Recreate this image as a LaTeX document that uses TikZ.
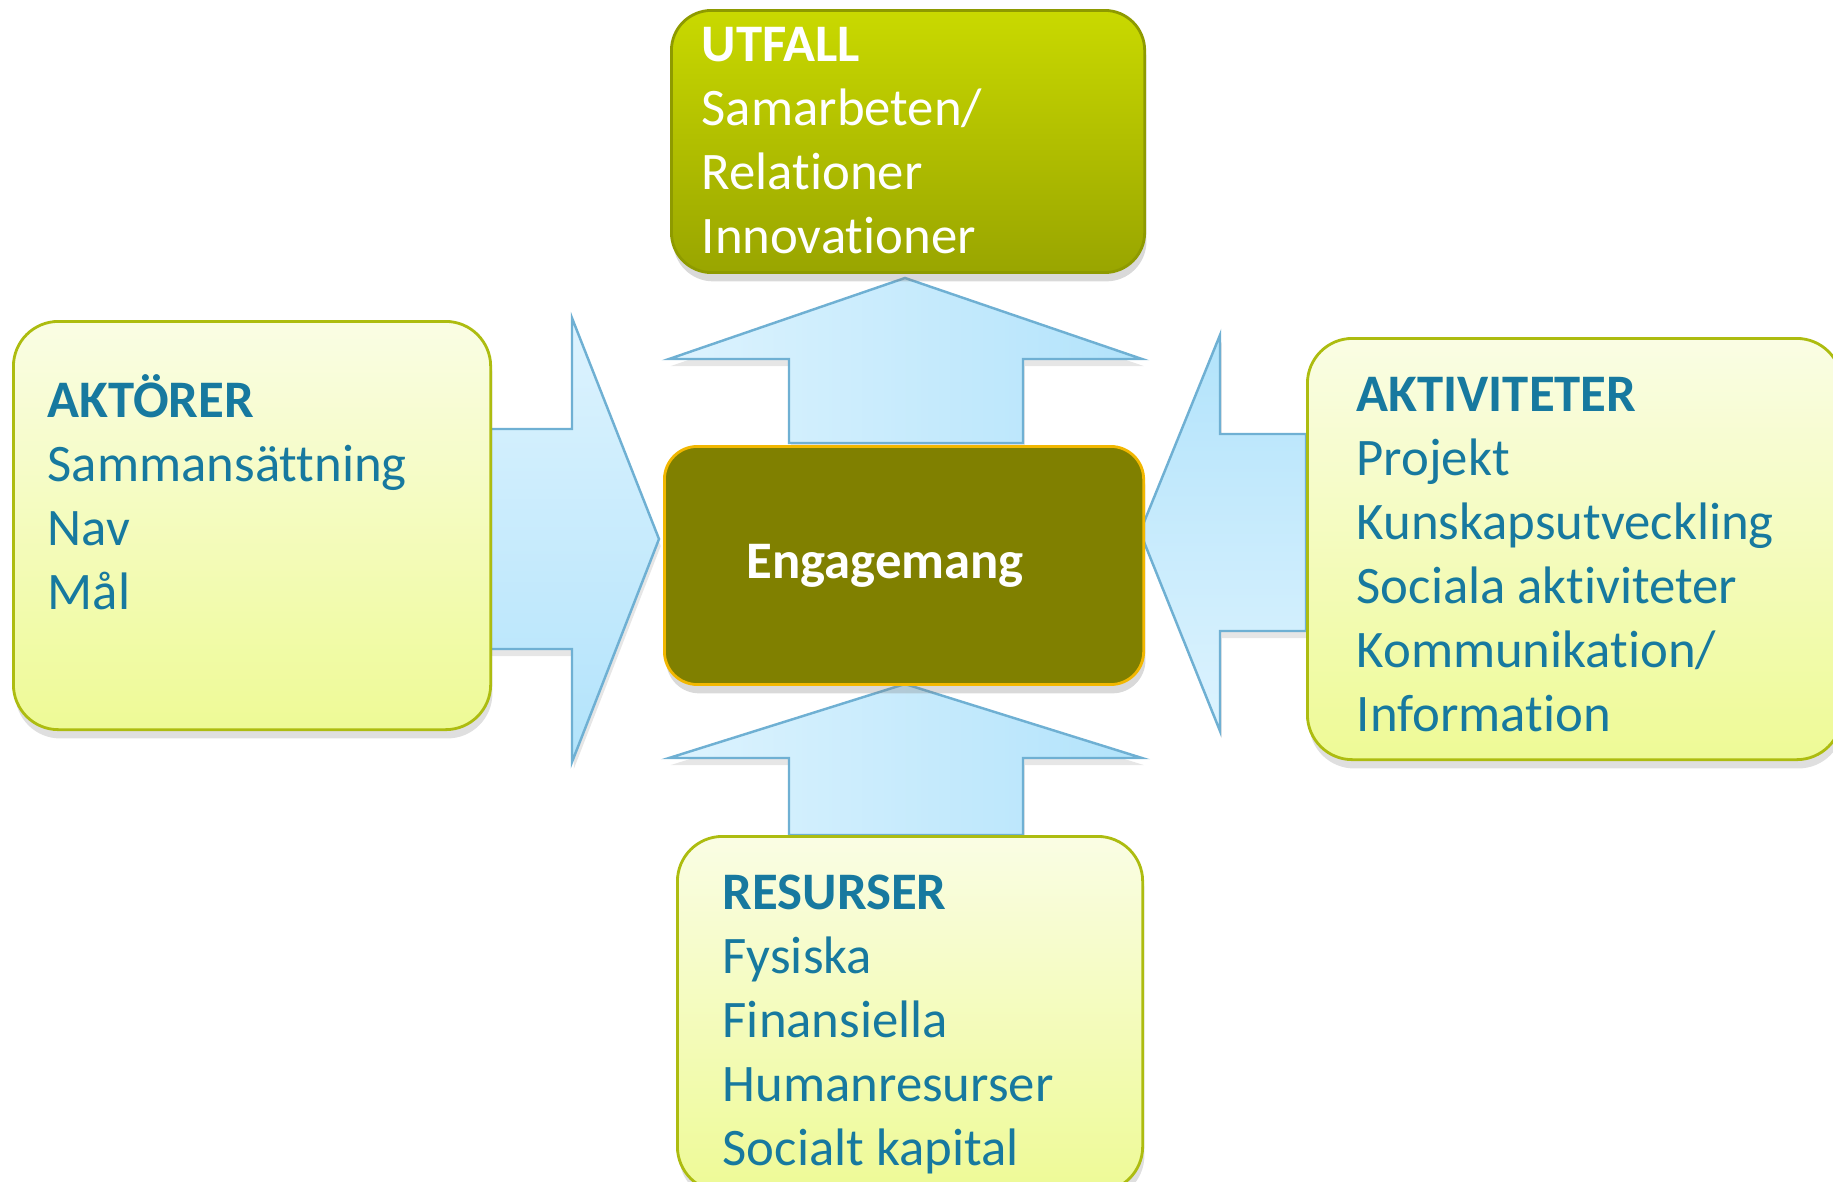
\documentclass[tikz,border=0pt]{standalone}
\usepackage{fontspec}
\setmainfont{Carlito}[Ligatures={NoCommon}]
\usetikzlibrary{positioning, shadows}
\definecolor{textblue}{HTML}{17799F}
\definecolor{boxtop}{HTML}{FAFDE4}
\definecolor{boxbottom}{HTML}{EEFA96}
\definecolor{boxline}{HTML}{ADBC10}
\definecolor{outtop}{HTML}{C9D900}
\definecolor{outbottom}{HTML}{99A500}
\definecolor{outline}{HTML}{8E9A00}
\definecolor{coregreen}{HTML}{808000}
\definecolor{coreline}{HTML}{F2B700}
\definecolor{arrowlight}{HTML}{DDF3FE}
\definecolor{arrowdark}{HTML}{B2E3FB}
\definecolor{arrowline}{HTML}{6FB0D3}

\begin{document}
\begin{tikzpicture}[x=0.01cm, y=-0.01cm,
			inputbox/.style = {rectangle, rounded corners=0.45cm, draw=boxline, line width=0.8pt, top color=boxtop, bottom color=boxbottom, anchor=north west, drop shadow={shadow xshift=0.5pt, shadow yshift=-2.5pt, opacity=0.25}},
			outcomebox/.style = {rectangle, rounded corners=0.4cm, draw=outline, line width=0.8pt, top color=outtop, bottom color=outbottom, anchor=north west, drop shadow={shadow xshift=0.5pt, shadow yshift=-2.5pt, opacity=0.3}},
			corebox/.style = {rectangle, rounded corners=0.33cm, draw=coreline, line width=0.8pt, fill=coregreen, anchor=north west, text=white, font=\fontsize{15}{18.2}\selectfont\bfseries, drop shadow={shadow xshift=0.5pt, shadow yshift=-2.5pt, opacity=0.3}},
			boxtext/.style = {anchor=north west, inner sep=0pt, align=left, text=textblue, font=\fontsize{15}{18.2}\selectfont},
			bigarrow/.style = {draw=arrowline, line width=0.7pt, line join=miter, drop shadow={shadow xshift=0.5pt, shadow yshift=-2pt, opacity=0.2}},
		]
		\useasboundingbox (0,0) rectangle (1833,1181);

		% block arrows
		\draw[bigarrow, top color=arrowlight, bottom color=arrowdark]
			(489,429) -- (572,429) -- (572,318) -- (659,539) -- (572,762) -- (572,649) -- (489,649) -- cycle;
		\draw[bigarrow, top color=arrowdark, bottom color=arrowlight]
			(1306,434) -- (1220,434) -- (1220,335) -- (1140,532) -- (1220,731) -- (1220,631) -- (1306,631) -- cycle;
		\draw[bigarrow, left color=arrowlight, right color=arrowdark]
			(789,443) -- (789,359) -- (669,359) -- (905,278) -- (1142,359) -- (1023,359) -- (1023,443) -- cycle;
		\draw[bigarrow, left color=arrowlight, right color=arrowdark]
			(789,835) -- (789,758) -- (669,758) -- (905,684) -- (1142,758) -- (1023,758) -- (1023,835) -- cycle;

		% boxes
		\node[outcomebox, minimum width=4.73cm, minimum height=2.62cm] (utfall) at (670,9) {};
		\node[corebox, minimum width=4.79cm, minimum height=2.38cm] (engage) at (663,445) {\raisebox{-0.05cm}{Engagemang}\hspace*{0.38cm}};
		\node[inputbox, minimum width=4.77cm, minimum height=4.08cm] (aktorer) at (12,320) {};
		\node[inputbox, minimum width=5.34cm, minimum height=4.21cm] (aktiv) at (1306,337) {};
		\node[inputbox, minimum width=4.65cm, minimum height=3.55cm] (resurser) at (676,835) {};

		% texts
		\node[boxtext, text=white] (utfalltext) at (701,16) {\strut\textbf{UTFALL}\\Samarbeten/\\Relationer\\Innovationer};
		\node[boxtext] (aktorertext) at (47,372) {\strut\textbf{AKTÖRER}\\Sammansättning\\Nav\\Mål};
		\node[boxtext] (aktivtext) at (1356,366) {\strut\textbf{AKTIVITETER}\\Projekt\\Kunskapsutveckling\\Sociala aktiviteter\\Kommunikation/\\Information};
		\node[boxtext] (resurstext) at (722,864) {\strut\textbf{RESURSER}\\Fysiska\\Finansiella\\Humanresurser\\Socialt kapital};

	\end{tikzpicture}
\end{document}
